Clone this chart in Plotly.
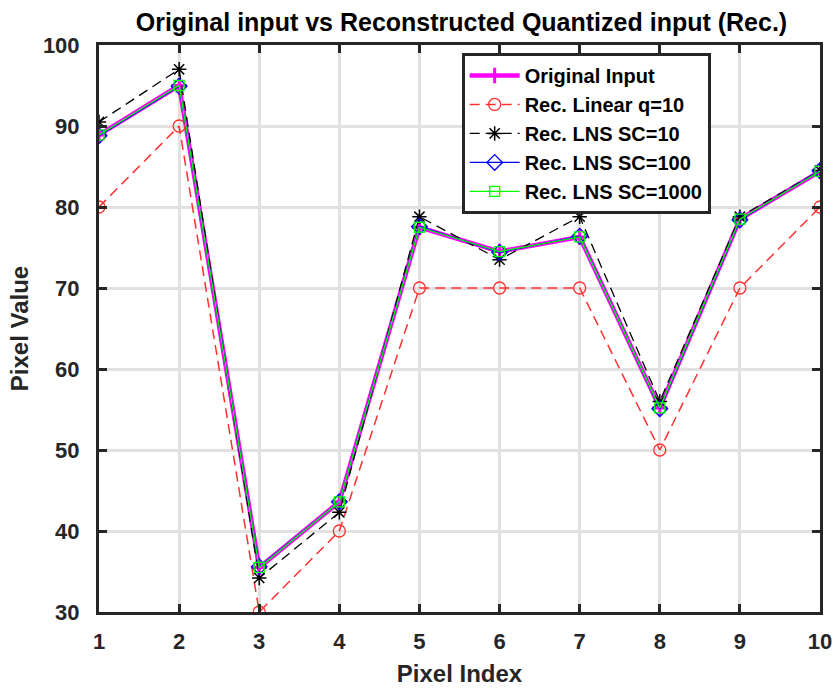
import plotly.graph_objects as go

pixel_index = [1, 2, 3, 4, 5, 6, 7, 8, 9, 10]
original = [88.9, 95.0, 35.5, 43.6, 77.5, 74.5, 76.3, 55.2, 78.5, 84.4]
rec_linear_q10 = [80, 90, 30, 40, 70, 70, 70, 50, 70, 80]
rec_lns_sc10 = [90.5, 97.0, 34.2, 42.3, 78.8, 73.5, 78.8, 56.0, 78.8, 84.5]
rec_lns_sc100 = [88.8, 94.9, 35.6, 43.6, 77.6, 74.4, 76.4, 55.1, 78.4, 84.5]
rec_lns_sc1000 = [88.9, 95.0, 35.5, 43.6, 77.5, 74.5, 76.3, 55.2, 78.5, 84.4]

x_ticks = list(range(1, 11))
y_ticks = [30, 40, 50, 60, 70, 80, 90, 100]

FONT = "Liberation Sans"
AX = "#262626"

fig = go.Figure()
fig.add_trace(go.Scatter(
    x=pixel_index, y=original, name="<b>Original Input</b>", mode="lines+markers",
    line=dict(color="#ff00ff", width=4.5),
    marker=dict(symbol="cross-thin-open", size=11, line=dict(color="#ff00ff", width=3))))
fig.add_trace(go.Scatter(
    x=pixel_index, y=rec_linear_q10, name="<b>Rec. Linear q=10</b>", mode="lines+markers",
    line=dict(color="#ff3030", width=1.5, dash="10px,6px"),
    marker=dict(symbol="circle-open", size=12, color="#ff3030", line=dict(width=1.3))))
fig.add_trace(go.Scatter(
    x=pixel_index, y=rec_lns_sc10, name="<b>Rec. LNS SC=10</b>", mode="lines+markers",
    line=dict(color="#000000", width=1.3, dash="10px,6px"),
    marker=dict(symbol="asterisk-open", size=12, color="#000000", line=dict(width=1.5))))
fig.add_trace(go.Scatter(
    x=pixel_index, y=rec_lns_sc100, name="<b>Rec. LNS SC=100</b>", mode="lines+markers",
    line=dict(color="#0000ff", width=1.3),
    marker=dict(symbol="diamond-open", size=12, color="#0000ff", line=dict(width=1.3))))
fig.add_trace(go.Scatter(
    x=pixel_index, y=rec_lns_sc1000, name="<b>Rec. LNS SC=1000</b>", mode="lines+markers",
    line=dict(color="#00ff00", width=1.3),
    marker=dict(symbol="square-open", size=10, color="#00ff00", line=dict(width=1.3))))

axis_common = dict(
    showline=True, linecolor=AX, linewidth=3, mirror="ticks",
    ticks="inside", ticklen=8, tickwidth=3, tickcolor=AX,
    showgrid=True, gridcolor="#e1e1e1", gridwidth=2.5, zeroline=False,
    tickfont=dict(family=FONT, size=22, color=AX, weight="bold"),
    automargin=False,
)

fig.update_layout(
    width=836, height=691,
    margin=dict(l=99, r=16, t=45, b=79),
    paper_bgcolor="white", plot_bgcolor="white",
    font=dict(family=FONT, color=AX),
    title=dict(text="<b>Original input vs Reconstructed Quantized input (Rec.)</b>",
               x=0.552, xanchor="center", y=0.968, yanchor="middle",
               font=dict(family=FONT, size=25, color="#000000")),
    xaxis=dict(range=[1, 10], tickvals=x_ticks, ticklabelstandoff=8,
               title=dict(text="<b>Pixel Index</b>",
               font=dict(family=FONT, size=24, color=AX), standoff=12), **axis_common),
    yaxis=dict(range=[30, 100], tickvals=y_ticks, ticklabelstandoff=12,
               title=dict(text="<b>Pixel Value</b>",
               font=dict(family=FONT, size=24, color=AX), standoff=8), **axis_common),
    legend=dict(x=0.503, y=0.986, xanchor="left", yanchor="top",
                bgcolor="white", bordercolor=AX, borderwidth=3,
                font=dict(family=FONT, size=20, color="#000000"),
                tracegroupgap=0, itemwidth=50),
    showlegend=True,
)

fig.write_html("out.html")
